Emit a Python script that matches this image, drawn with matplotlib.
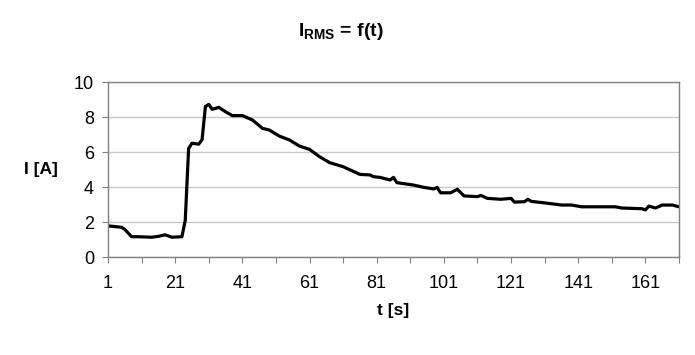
import matplotlib.pyplot as plt

plt.rcParams['font.family'] = ['Liberation Sans', 'DejaVu Sans']
plt.rcParams['mathtext.fontset'] = 'custom'
plt.rcParams['mathtext.rm'] = 'Liberation Sans'
plt.rcParams['mathtext.bf'] = 'Liberation Sans:bold'

# traced points of the RMS current curve
t = [1, 5, 6, 8, 10, 14, 16, 18, 20, 23, 24, 25, 26, 28, 29, 30, 31, 32, 34, 36,
     38, 41, 44, 47, 49, 52, 55, 58, 61, 64, 67, 71, 76, 79, 80, 82, 85, 86, 87,
     92, 95, 98, 99, 100, 103, 105, 107, 111, 112, 114, 118, 121, 122, 125, 126,
     127, 132, 136, 139, 142, 152, 154, 160, 161, 162, 164, 166, 169, 171]
I = [1.78, 1.70, 1.58, 1.16, 1.16, 1.13, 1.18, 1.27, 1.13, 1.16, 2.1, 6.2, 6.5,
     6.45, 6.7, 8.6, 8.72, 8.44, 8.55, 8.3, 8.08, 8.08, 7.83, 7.35, 7.26, 6.91,
     6.69, 6.34, 6.15, 5.73, 5.39, 5.16, 4.72, 4.69, 4.59, 4.55, 4.4, 4.55, 4.25,
     4.11, 3.98, 3.89, 3.98, 3.67, 3.67, 3.87, 3.49, 3.45, 3.52, 3.35, 3.3, 3.35,
     3.14, 3.16, 3.3, 3.18, 3.07, 2.97, 2.97, 2.87, 2.87, 2.8, 2.76, 2.69, 2.91,
     2.8, 2.97, 2.97, 2.87]

xticks_major = list(range(1, 172, 10))
xlabels = [str(v) if (v - 1) % 20 == 0 else '' for v in xticks_major]
yticks = [0, 2, 4, 6, 8, 10]

fig = plt.figure(figsize=(6.95, 3.55), dpi=100)
ax = fig.add_axes([0.1554, 0.276, 0.977 - 0.1554, 0.769 - 0.276])

ax.plot(t, I, color='black', lw=2.3, solid_joinstyle='round')

ax.set_xlim(1, 171)
ax.set_ylim(0, 10)
ax.set_xticks(xticks_major)
ax.set_xticklabels(xlabels)
ax.set_yticks(yticks)
ax.grid(axis='y', color='#c8c8c8', lw=1)
ax.set_axisbelow(True)

for s in ax.spines.values():
    s.set_color('#808080')
    s.set_linewidth(1)
ax.tick_params(axis='both', direction='out', length=4, color='#808080',
               labelsize=13, pad=6)
ax.tick_params(axis='x', pad=9)

ax.set_xlabel('t [s]', fontsize=12.5, fontweight='bold', labelpad=8)
ax.set_ylabel('I [A]', fontsize=12.5, fontweight='bold', rotation=0, labelpad=24,
              va='center')
fig.text(0.49, 0.912, r'I$_{\mathbf{RMS}}$ = f(t)', fontsize=14,
         fontweight='bold', ha='center', va='center')

fig.savefig('out.png', dpi=100)
